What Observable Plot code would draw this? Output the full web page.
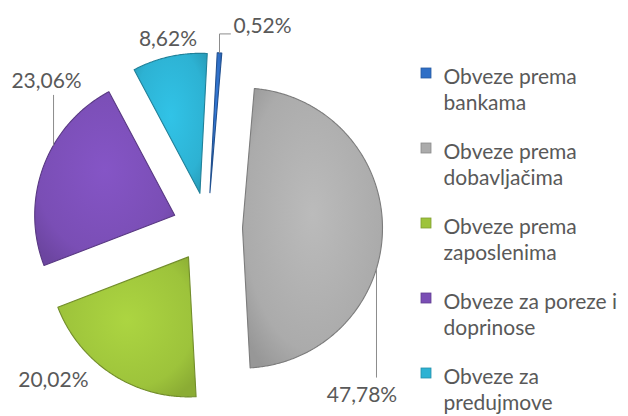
<!DOCTYPE html>
<html><head><meta charset="utf-8">
<script src="https://cdn.jsdelivr.net/npm/d3@7"></script>
<script src="https://cdn.jsdelivr.net/npm/@observablehq/plot@0.6"></script>
<style>html,body{margin:0;padding:0;background:#fff;}</style>
</head><body><div id="chart"></div>
<script>
// ---- data ----
const categories = ["Obveze prema bankama", "Obveze prema dobavljačima", "Obveze prema zaposlenima", "Obveze za poreze i doprinose", "Obveze za predujmove"];
const shares = [0.52, 47.78, 20.02, 23.06, 8.62];
const colors = ["#2F6FC6", "#ABABAB", "#9DC33B", "#7A4EB5", "#2DB2D3"];

// ---- layout / style ----
const W = 628, H = 416;
const cx = 207, cy = 227, R = 140, explode = 35, rotation = 3;
const fontSize = 21, textColor = "#595959", font = "Lato";
const labelNudge = [[43, -20], [-20.5, 172], [-59, 13], [3, -78], [-1.6, -11]];
const leaderKind = ["elbow", "down", "none", "up", "none"];
const leaderDx = [0, 21.5, 0, 7, 0];
const legendX = 421, legendTop = 83, legendStep = 75, legendLH = 1.24;

const ctx = document.createElement("canvas").getContext("2d");
ctx.font = `${fontSize}px ${font}`;
const rad = a => a * Math.PI / 180;
const fmt = v => v.toFixed(2).replace(".", ",") + "%";

const arcs = d3.pie().sort(null).startAngle(rad(rotation)).endAngle(rad(rotation + 360))(shares);
const slices = arcs.map((a, i) => {
  const mid = (a.startAngle + a.endAngle) / 2;
  const ax = cx + explode * Math.sin(mid), ay = cy - explode * Math.cos(mid);
  return {i, name: categories[i], value: shares[i], a0: a.startAngle, a1: a.endAngle, mid, ax, ay,
    mx: ax + R * Math.sin(mid), my: ay - R * Math.cos(mid)};
});
const polys = slices.map(s => {
  const n = Math.max(2, Math.ceil((s.a1 - s.a0) / rad(0.5)));
  const pts = [{x: s.ax, y: s.ay}];
  for (let k = 0; k <= n; k++) {
    const t = s.a0 + (s.a1 - s.a0) * k / n;
    pts.push({x: s.ax + R * Math.sin(t), y: s.ay - R * Math.cos(t)});
  }
  pts.push({x: s.ax, y: s.ay});
  return pts;
});
const labels = slices.map(s => ({
  text: fmt(s.value), x: s.mx + labelNudge[s.i][0], y: s.my + labelNudge[s.i][1], i: s.i
}));
const leaders = [];
labels.forEach(l => {
  const s = slices[l.i], kind = leaderKind[l.i];
  if (kind === "elbow") {
    const w = ctx.measureText(l.text).width;
    leaders.push({k: l.i, x: s.mx, y: s.my}, {k: l.i, x: s.mx, y: l.y + 1}, {k: l.i, x: l.x - w / 2 - 3, y: l.y + 1});
  } else if (kind === "up") {
    const x = Math.max(l.x + leaderDx[l.i], s.ax - R + 6);
    leaders.push({k: l.i, x, y: l.y + 7}, {k: l.i, x, y: s.ay - Math.sqrt(R * R - (x - s.ax) ** 2)});
  } else if (kind === "down") {
    const x = Math.min(l.x + leaderDx[l.i], s.ax + R - 6);
    leaders.push({k: l.i, x, y: s.ay + Math.sqrt(R * R - (x - s.ax) ** 2)}, {k: l.i, x, y: l.y - 25});
  }
});
const legend = categories.map((c, i) => ({name: c, i, base: legendTop + legendStep * i}));

function defs() {
  const ns = "http://www.w3.org/2000/svg";
  const d = document.createElementNS(ns, "defs");
  colors.forEach((c, i) => {
    const g = document.createElementNS(ns, "radialGradient");
    g.setAttribute("id", "sg" + i);
    g.setAttribute("cx", "50%"); g.setAttribute("cy", "45%"); g.setAttribute("r", "65%");
    [[0, d3.color(c).brighter(0.25)], [0.75, d3.color(c)], [1, d3.color(c).darker(0.35)]].forEach(([o, col]) => {
      const st = document.createElementNS(ns, "stop");
      st.setAttribute("offset", o); st.setAttribute("stop-color", col.formatHex());
      g.appendChild(st);
    });
    d.appendChild(g);
  });
  return d;
}

const chart = Plot.plot({
  width: W, height: H, margin: 0,
  style: {background: "#fff", fontFamily: font, color: textColor},
  x: {domain: [0, W], range: [0, W], axis: null},
  y: {domain: [0, H], range: [0, H], axis: null},
  marks: [
    defs,
    ...slices.map(s => Plot.line(polys[s.i], {x: "x", y: "y", fill: `url(#sg${s.i})`,
      stroke: d3.color(colors[s.i]).darker(0.9).formatHex(), strokeWidth: 1.1, strokeLinejoin: "round"})),
    Plot.line(leaders, {x: "x", y: "y", z: "k", stroke: "#8c8c8c", strokeWidth: 1}),
    Plot.text(labels, {x: "x", y: "y", text: "text", textAnchor: "middle", lineAnchor: "bottom",
      fontSize, fill: textColor}),
    Plot.rect(legend, {x1: legendX, x2: legendX + 10, y1: d => d.base - 15, y2: d => d.base - 5,
      fill: d => colors[d.i], stroke: d => d3.color(colors[d.i]).darker(0.6).formatHex(), strokeWidth: 0.8}),
    Plot.text(legend, {x: legendX + 22, y: d => d.base - 0.71 * legendLH * fontSize, text: "name",
      textAnchor: "start", lineAnchor: "top", lineWidth: 9.5, lineHeight: legendLH, fontSize, fill: textColor})
  ]
});
document.getElementById("chart").appendChild(chart);
</script></body></html>
